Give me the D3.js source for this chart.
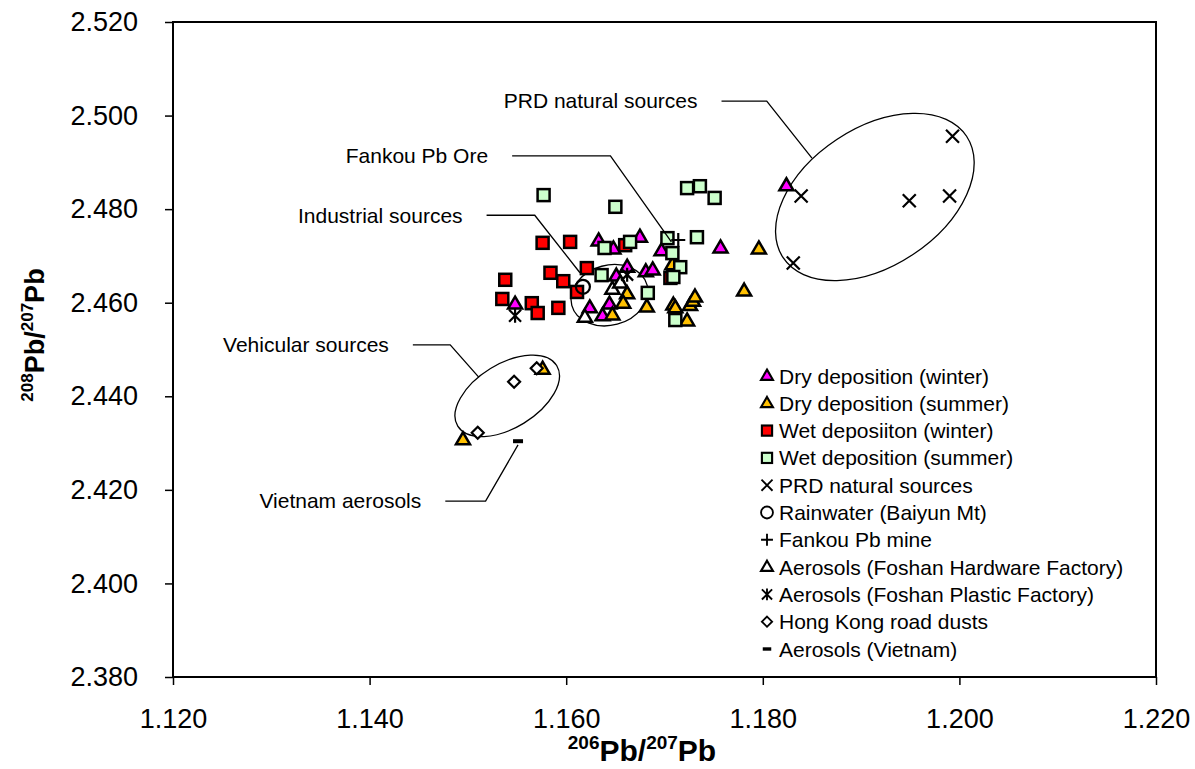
<!DOCTYPE html>
<html>
<head>
<meta charset="utf-8">
<script src="https://cdn.jsdelivr.net/npm/d3@7"></script>
<style>
  body { margin: 0; background: #fff; }
  text { font-family: "Liberation Sans", Arial, sans-serif; fill: #000; }
</style>
</head>
<body>
<div id="chart"></div>
<script>
// tick values
const xTicks = [1.12, 1.14, 1.16, 1.18, 1.20, 1.22];
const yTicks = [2.38, 2.40, 2.42, 2.44, 2.46, 2.48, 2.50, 2.52];

// series values [206Pb/207Pb, 208Pb/207Pb]
const dryWinter = [[1.1824,2.4850],[1.1757,2.4717],[1.1633,2.4732],[1.1648,2.4715],[1.1675,2.4740],
  [1.1697,2.4711],[1.1662,2.4676],[1.1651,2.4657],[1.1681,2.4666],[1.1688,2.4670],
  [1.1624,2.4589],[1.1644,2.4597],[1.1637,2.4572],[1.1548,2.4597]];
const drySummer = [[1.1495,2.4307],[1.1576,2.4458],[1.1796,2.4715],[1.1781,2.4625],
  [1.1662,2.4619],[1.1658,2.4599],[1.1647,2.4574],[1.1682,2.4591],
  [1.1709,2.4595],[1.1711,2.4589],[1.1726,2.4594],[1.1729,2.4603],[1.1731,2.4612],
  [1.1723,2.4561],[1.1708,2.4681]];
const wetWinter = [[1.1576,2.4728],[1.1604,2.4730],[1.1538,2.4649],[1.1584,2.4664],[1.1597,2.4646],
  [1.1621,2.4674],[1.1611,2.4623],[1.1535,2.4608],[1.1565,2.4599],[1.1571,2.4578],
  [1.1592,2.4589],[1.1660,2.4723],[1.1706,2.4653]];
const wetSummer = [[1.1577,2.4830],[1.1650,2.4805],[1.1723,2.4845],[1.1736,2.4849],[1.1751,2.4824],
  [1.1703,2.4738],[1.1733,2.4740],[1.1665,2.4730],[1.1639,2.4717],[1.1708,2.4706],
  [1.1716,2.4676],[1.1709,2.4655],[1.1636,2.4659],[1.1683,2.4621],[1.1711,2.4563]];
const prdNatural = [[1.1993,2.4956],[1.1839,2.4828],[1.1949,2.4818],[1.1990,2.4828],[1.1831,2.4685]];
const rainwater = [[1.1617,2.4634]];
const fankouMine = [[1.1714,2.4734]];
const foshanHardware = [[1.1619,2.4569],[1.1647,2.4629],[1.1655,2.4642]];
const foshanPlastic = [[1.1548,2.4572],[1.1662,2.4660]];
const hkDusts = [[1.1547,2.4431],[1.1510,2.4322],[1.1570,2.4460]];
const vietnam = [[1.1551,2.4304]];

const seriesNames = ["Dry deposition (winter)", "Dry deposition (summer)", "Wet deposiiton (winter)",
  "Wet deposition (summer)", "PRD natural sources", "Rainwater (Baiyun Mt)", "Fankou Pb mine",
  "Aerosols (Foshan Hardware Factory)", "Aerosols (Foshan Plastic Factory)", "Hong Kong road dusts",
  "Aerosols (Vietnam)"];

// annotation labels and their leader lines (data units)
const labelNames = ["PRD natural sources", "Fankou Pb Ore", "Industrial sources", "Vehicular sources", "Vietnam aerosols"];
const labelLines = [
  [[1.1758,2.5031],[1.1804,2.5031],[1.1850,2.4909]],
  [[1.1545,2.4914],[1.1645,2.4914],[1.1707,2.4730]],
  [[1.1519,2.4787],[1.1568,2.4787],[1.1614,2.4664]],
  [[1.1444,2.4510],[1.1482,2.4510],[1.1511,2.4441]],
  [[1.1477,2.4176],[1.1518,2.4176],[1.1551,2.4296]]
];
// group ellipse centres
const ellipseCentres = [[1.1914,2.4826],[1.1540,2.4401],[1.1644,2.4616]];

const width = 1195, height = 769;
const plotLeft = 173, plotRight = 1156, plotTop = 22, plotBottom = 677;

const x = d3.scaleLinear().domain([1.12, 1.22]).range([plotLeft, plotRight]);
const y = d3.scaleLinear().domain([2.38, 2.52]).range([plotBottom, plotTop]);

const svg = d3.select('#chart').append('svg')
  .attr('width', width).attr('height', height);

// axes
const yAxis = svg.append('g')
  .attr('transform', `translate(${plotLeft},0)`)
  .call(d3.axisLeft(y).tickValues(yTicks).tickSize(8).tickPadding(27).tickFormat(d3.format('.3f')));
const xAxis = svg.append('g')
  .attr('transform', `translate(0,${plotBottom})`)
  .call(d3.axisBottom(x).tickValues(xTicks).tickSize(8).tickPadding(24).tickFormat(d3.format('.3f')));
[xAxis, yAxis].forEach(a => {
  a.select('.domain').remove();
  a.selectAll('line').attr('stroke', '#000').attr('stroke-width', 1.5);
  a.selectAll('text').attr('font-size', 27).attr('font-family', '"Liberation Sans", Arial, sans-serif').attr('fill', '#000');
});

svg.append('rect')
  .attr('x', plotLeft).attr('y', plotTop)
  .attr('width', plotRight - plotLeft).attr('height', plotBottom - plotTop)
  .attr('fill', 'none').attr('stroke', '#000').attr('stroke-width', 2);

// axis titles
function isoTitle(sel, a, b, big, small) {
  const up = Math.round(big * 0.4);
  sel.append('tspan').attr('font-size', small).attr('dy', -up).text(a);
  sel.append('tspan').attr('font-size', big).attr('dy', up).text('Pb/');
  sel.append('tspan').attr('font-size', small).attr('dy', -up).text(b);
  sel.append('tspan').attr('font-size', big).attr('dy', up).text('Pb');
}
svg.append('text')
  .attr('x', 642).attr('y', 761)
  .attr('text-anchor', 'middle').attr('font-weight', 'bold')
  .call(isoTitle, '206', '207', 30, 19);
svg.append('text')
  .attr('transform', 'translate(44,335) rotate(-90)')
  .attr('text-anchor', 'middle').attr('font-weight', 'bold')
  .call(isoTitle, '208', '207', 27, 17);

// marker shapes
function marker(g, shape, fill) {
  if (shape === 'tri') {
    g.append('path').attr('d', 'M0,-7.5L7,4.5L-7,4.5Z')
      .attr('fill', fill).attr('stroke', '#000').attr('stroke-width', 2.5);
  } else if (shape === 'sq') {
    g.append('rect').attr('x', -6).attr('y', -6).attr('width', 12).attr('height', 12)
      .attr('fill', fill).attr('stroke', '#000').attr('stroke-width', 2.5);
  } else if (shape === 'x') {
    g.append('path').attr('d', 'M-6.5,-6.5L6.5,6.5M-6.5,6.5L6.5,-6.5').attr('stroke', '#000').attr('stroke-width', 2.2);
  } else if (shape === 'circle') {
    g.append('circle').attr('r', 7).attr('fill', 'none').attr('stroke', '#000').attr('stroke-width', 2.2);
  } else if (shape === 'plus') {
    g.append('path').attr('d', 'M-7,0L7,0M0,-7L0,7').attr('stroke', '#000').attr('stroke-width', 2.2);
  } else if (shape === 'star') {
    g.append('path').attr('d', 'M-6,-6L6,6M-6,6L6,-6M0,-7L0,7').attr('stroke', '#000').attr('stroke-width', 2.2);
  } else if (shape === 'diamond') {
    g.append('path').attr('d', 'M0,-6L6,0L0,6L-6,0Z')
      .attr('fill', fill).attr('stroke', '#000').attr('stroke-width', 2.2);
  } else if (shape === 'dash') {
    g.append('rect').attr('x', -5).attr('y', -2).attr('width', 10).attr('height', 4).attr('fill', '#000');
  }
}

const series = [
  {data: dryWinter, shape: 'tri', fill: '#FF00FF'},
  {data: drySummer, shape: 'tri', fill: '#FFC000'},
  {data: wetWinter, shape: 'sq', fill: '#FF0000'},
  {data: wetSummer, shape: 'sq', fill: '#CCFFCC'},
  {data: prdNatural, shape: 'x', fill: 'none'},
  {data: rainwater, shape: 'circle', fill: 'none'},
  {data: fankouMine, shape: 'plus', fill: 'none'},
  {data: foshanHardware, shape: 'tri', fill: '#FFFFFF'},
  {data: foshanPlastic, shape: 'star', fill: 'none'},
  {data: hkDusts, shape: 'diamond', fill: '#FFFFFF'},
  {data: vietnam, shape: 'dash', fill: '#000'}
];
series.forEach((s, i) => s.name = seriesNames[i]);

// group ellipses (pixel radii / tilt)
const ellipseShape = [[110, 69, -33.5], [58, 32, -31.5], [39, 30, -15]];
svg.append('g').selectAll('ellipse')
  .data(ellipseCentres)
  .enter().append('ellipse')
    .attr('transform', (d, i) => `translate(${x(d[0])},${y(d[1])}) rotate(${ellipseShape[i][2]})`)
    .attr('rx', (d, i) => ellipseShape[i][0])
    .attr('ry', (d, i) => ellipseShape[i][1])
    .attr('fill', 'none').attr('stroke', '#000').attr('stroke-width', 1.3);

// points
series.forEach(s => {
  svg.append('g').selectAll('g')
    .data(s.data)
    .enter().append('g')
      .attr('transform', d => `translate(${x(d[0])},${y(d[1])})`)
      .each(function() { marker(d3.select(this), s.shape, s.fill); });
});

// leader lines + labels
const line = d3.line().x(d => x(d[0])).y(d => y(d[1]));
labelLines.forEach((pts, i) => {
  svg.append('path').attr('d', line(pts))
    .attr('fill', 'none').attr('stroke', '#000').attr('stroke-width', 1.3);
  svg.append('text')
    .attr('x', x(pts[0][0]) - 24).attr('y', y(pts[0][1]))
    .attr('dy', '0.35em').attr('text-anchor', 'end')
    .attr('font-size', 21)
    .text(labelNames[i]);
});

// legend
const legend = svg.append('g').attr('transform', 'translate(767,376)');
series.forEach((s, i) => {
  const row = legend.append('g').attr('transform', `translate(0,${i * 27.3})`);
  const m = row.append('g').attr('transform', 'scale(0.85)');
  marker(m, s.shape, s.fill);
  row.append('text').attr('x', 12).attr('dy', '0.36em')
    .attr('font-size', 21).text(s.name);
});
</script>
</body>
</html>
